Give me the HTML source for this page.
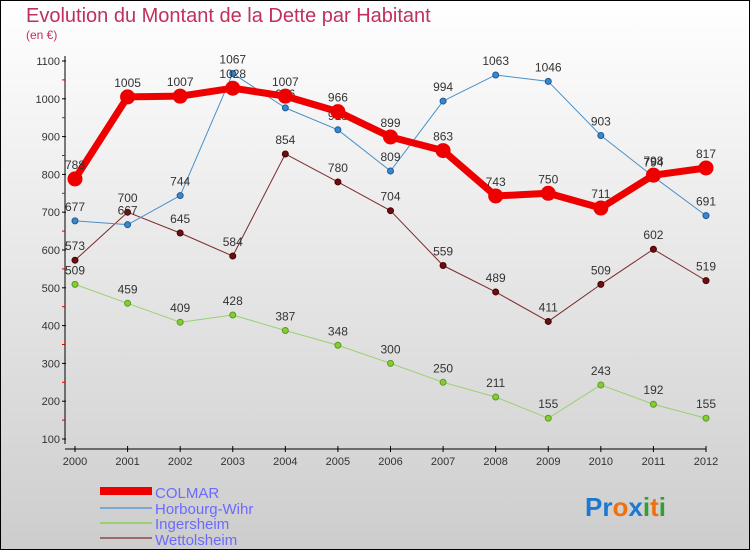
<!DOCTYPE html>
<html><head><meta charset="utf-8"><style>
body{margin:0}
#c{width:750px;height:550px;position:relative;overflow:hidden;font-family:"Liberation Sans",sans-serif}
</style></head><body>
<div id="c">
<svg id="s" width="750" height="550" xmlns="http://www.w3.org/2000/svg">
<defs><linearGradient id="bg" x1="0" y1="0" x2="0" y2="1"><stop offset="0" stop-color="#ffffff"/><stop offset="1" stop-color="#cdcdcd"/></linearGradient></defs>
<rect x="0.5" y="0.5" width="749" height="549" fill="url(#bg)" stroke="#000"/>
<text x="26" y="22" font-size="20" fill="#c0305a">Evolution du Montant de la Dette par Habitant</text>
<text x="26" y="39" font-size="12" fill="#c0305a">(en €)</text>
<g id="axes"></g><g id="series"></g>
<g>
<rect x="100" y="487" width="52" height="8" fill="#e00"/>
<text x="155" y="498" font-size="15" fill="#6a6aff">COLMAR</text>
<line x1="100" y1="508" x2="152" y2="508" stroke="#7aa8d0" stroke-width="2"/>
<text x="155" y="514" font-size="15" fill="#6a6aff">Horbourg-Wihr</text>
<line x1="100" y1="523" x2="152" y2="523" stroke="#99d070" stroke-width="2"/>
<text x="155" y="529" font-size="15" fill="#6a6aff">Ingersheim</text>
<line x1="100" y1="538" x2="152" y2="538" stroke="#9a6a6a" stroke-width="2"/>
<text x="155" y="545" font-size="15" fill="#6a6aff">Wettolsheim</text>
</g>
<text x="585" y="516" font-size="26" font-weight="bold"><tspan fill="#1e78d0">Pr</tspan><tspan fill="#f07010">o</tspan><tspan fill="#1e78d0">x</tspan><tspan fill="#30a030">i</tspan><tspan fill="#f07010">t</tspan><tspan fill="#30a030">i</tspan></text>
</svg></div>
<script>
const years=[2000,2001,2002,2003,2004,2005,2006,2007,2008,2009,2010,2011,2012];
const colmar=[788,1005,1007,1028,1007,966,899,863,743,750,711,798,817];
const horbourg=[677,667,744,1067,976,918,809,994,1063,1046,903,794,691];
const ingersheim=[509,459,409,428,387,348,300,250,211,155,243,192,155];
const wettolsheim=[573,700,645,584,854,780,704,559,489,411,509,602,519];
const yTicks=[100,200,300,400,500,600,700,800,900,1000,1100];
const NS="http://www.w3.org/2000/svg";
const xs=i=>75+i*(706-75)/12;
const ys=v=>439-(v-100)*(439-61)/1000;
function mk(t,a,p){const e=document.createElementNS(NS,t);for(const k in a)e.setAttribute(k,a[k]);p.appendChild(e);return e;}
const ax=document.getElementById('axes');
let l=mk('line',{x1:65,y1:56,x2:65,y2:444,stroke:'#000'},ax);


l=mk('line',{x1:65,y1:449,x2:706,y2:449,stroke:'#000'},ax);


yTicks.forEach((v,i)=>{
 mk('line',{x1:62,y1:ys(v),x2:66,y2:ys(v),stroke:'#000'},ax);
 if(i<yTicks.length-1)mk('line',{x1:62,y1:ys(v+50),x2:65,y2:ys(v+50),stroke:'#d00'},ax);
 const t=mk('text',{x:60,y:ys(v)+4,'font-size':11,fill:'#333','text-anchor':'end'},ax);t.textContent=v;
 
 
});
years.forEach((y,i)=>{
 mk('line',{x1:xs(i),y1:446,x2:xs(i),y2:452,stroke:'#000'},ax);
 const t=mk('text',{x:xs(i),y:465,'font-size':11,fill:'#333','text-anchor':'middle'},ax);t.textContent=y;
 
 
});
const sg=document.getElementById('series');
function draw(vals,name,col,w,r,dot,dotStroke){
 const g=mk('g',{},sg);
 
 
 const p=mk('polyline',{points:vals.map((v,i)=>xs(i)+','+ys(v)).join(' '),fill:'none',stroke:col,'stroke-width':w,'stroke-linejoin':'round'},g);
 
 
 vals.forEach((v,i)=>{
  const c=mk('circle',{cx:xs(i),cy:ys(v),r:r,fill:dot,stroke:dotStroke,'stroke-width':1},g);
  
  
  const t=mk('text',{x:xs(i),y:ys(v)-10,'font-size':12,fill:'#333','text-anchor':'middle'},g);t.textContent=v;
  
  
 });
}
draw(wettolsheim,'wettolsheim','#7a2a2a',1,3,'#6a1010','#4a0000');
draw(ingersheim,'ingersheim','#99d070',1,3,'#88cc33','#5a9a20');
draw(horbourg,'horbourg','#4a90c8',1,3,'#3a88cc','#1a5a99');
draw(colmar,'colmar','#ee0000',7,7,'#ee0000','#ee0000');
</script>
</body></html>
